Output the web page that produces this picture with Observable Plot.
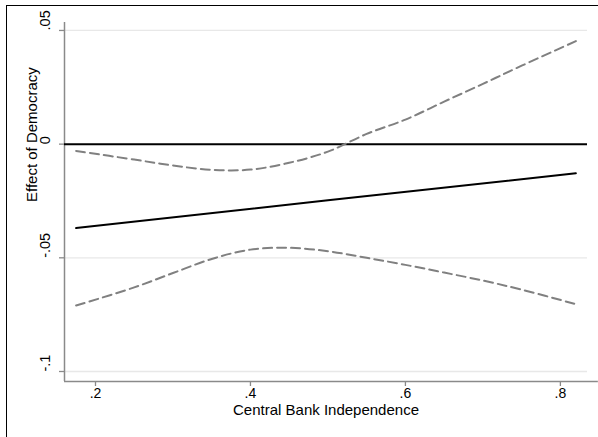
<!DOCTYPE html>
<html>
<head>
<meta charset="utf-8">
<script src="https://cdn.jsdelivr.net/npm/d3@7"></script>
<script src="https://cdn.jsdelivr.net/npm/@observablehq/plot@0.6"></script>
<style>
  html, body { margin: 0; padding: 0; background: #fff; }
  #wrap { position: relative; width: 598px; height: 437px; overflow: hidden; }
  #frame { position: absolute; left: 6px; top: 5px; right: -10px; bottom: -10px;
           border-left: 1.5px solid #000; border-top: 1.5px solid #000; pointer-events: none; }
  #chart { position: absolute; left: 0; top: 0; }
</style>
</head>
<body>
<div id="wrap"><div id="chart"></div><div id="frame"></div></div>
<script>
// Marginal effect of democracy across central bank independence, with 95% bounds
const cbi      = [0.175, 0.25, 0.30, 0.35, 0.40, 0.45, 0.50, 0.55, 0.60, 0.65, 0.70, 0.75, 0.82];
const upper    = [-0.0030, -0.0068, -0.0094, -0.0113, -0.0112, -0.0082, -0.0033, 0.0045, 0.0108, 0.0187, 0.0265, 0.0345, 0.0453];
const lower    = [-0.0710, -0.0630, -0.0567, -0.0505, -0.0464, -0.0456, -0.0471, -0.0500, -0.0531, -0.0565, -0.0600, -0.0640, -0.0704];
const effectX  = [0.175, 0.50, 0.82];
const effect   = [-0.0369, -0.0247, -0.0128];

const xTicks = [0.2, 0.4, 0.6, 0.8];
const yTicks = [0.05, 0, -0.05, -0.1];
const yGrid  = [0.05, -0.05, -0.1];

const xDomain = [0.16, 0.835];
const yDomain = [-0.1044, 0.0535];

const upperRows  = cbi.map((x, i) => ({x, y: upper[i]}));
const lowerRows  = cbi.map((x, i) => ({x, y: lower[i]}));
const effectRows = effectX.map((x, i) => ({x, y: effect[i]}));

// Stata-style labels: drop the leading zero (.05, -.1)
const fmt = d => d === 0 ? "0" : String(d).replace(/^(-?)0\./, "$1.");

const font = "Liberation Sans, Arial, sans-serif";
const axisGray = "#8a8a8a";

const chart = Plot.plot({
  width: 598,
  height: 437,
  marginLeft: 64,
  marginTop: 22,
  marginRight: 11,
  marginBottom: 56,
  style: {fontFamily: font, fontSize: "14px", background: "white", overflow: "visible"},
  x: {domain: xDomain, axis: null},
  y: {domain: yDomain, axis: null},
  marks: [
    // light horizontal grid
    Plot.ruleY(yGrid, {x1: xDomain[0], x2: xDomain[1], stroke: "#e8e8e8", strokeWidth: 1.3}),
    // axis lines
    Plot.ruleX([xDomain[0]], {y1: yDomain[0], y2: yDomain[1], stroke: axisGray, strokeWidth: 1.5}),
    Plot.ruleY([yDomain[0]], {x1: xDomain[0], x2: 0.849, stroke: axisGray, strokeWidth: 1.5}),
    // tick marks
    Plot.axisX({ticks: xTicks, tickSize: 5, tickFormat: () => "", stroke: axisGray, strokeWidth: 1.3, label: null}),
    Plot.axisY({ticks: yTicks, tickSize: 5, tickFormat: () => "", stroke: axisGray, strokeWidth: 1.3, label: null}),
    // tick labels
    Plot.text(xTicks, {x: d => d, frameAnchor: "bottom", dy: 16, text: fmt, fill: "black", fontSize: 14}),
    Plot.text(yTicks, {y: d => d, frameAnchor: "left", dx: -19, rotate: -90, text: fmt, fill: "black", fontSize: 14.5}),
    // axis titles
    Plot.text(["Central Bank Independence"], {frameAnchor: "bottom", dy: 33, fill: "black", fontSize: 15}),
    Plot.text(["Effect of Democracy"], {frameAnchor: "left", dx: -32, rotate: -90, fill: "black", fontSize: 15}),
    // zero reference line
    Plot.ruleY([0], {x1: xDomain[0], x2: xDomain[1], stroke: "black", strokeWidth: 2}),
    // confidence bounds
    Plot.line(upperRows, {x: "x", y: "y", curve: "catmull-rom", stroke: "#808080", strokeWidth: 2, strokeDasharray: "9,5"}),
    Plot.line(lowerRows, {x: "x", y: "y", curve: "catmull-rom", stroke: "#808080", strokeWidth: 2, strokeDasharray: "9,5"}),
    // marginal effect
    Plot.line(effectRows, {x: "x", y: "y", stroke: "black", strokeWidth: 2})
  ]
});

document.getElementById("chart").appendChild(chart);
</script>
</body>
</html>
